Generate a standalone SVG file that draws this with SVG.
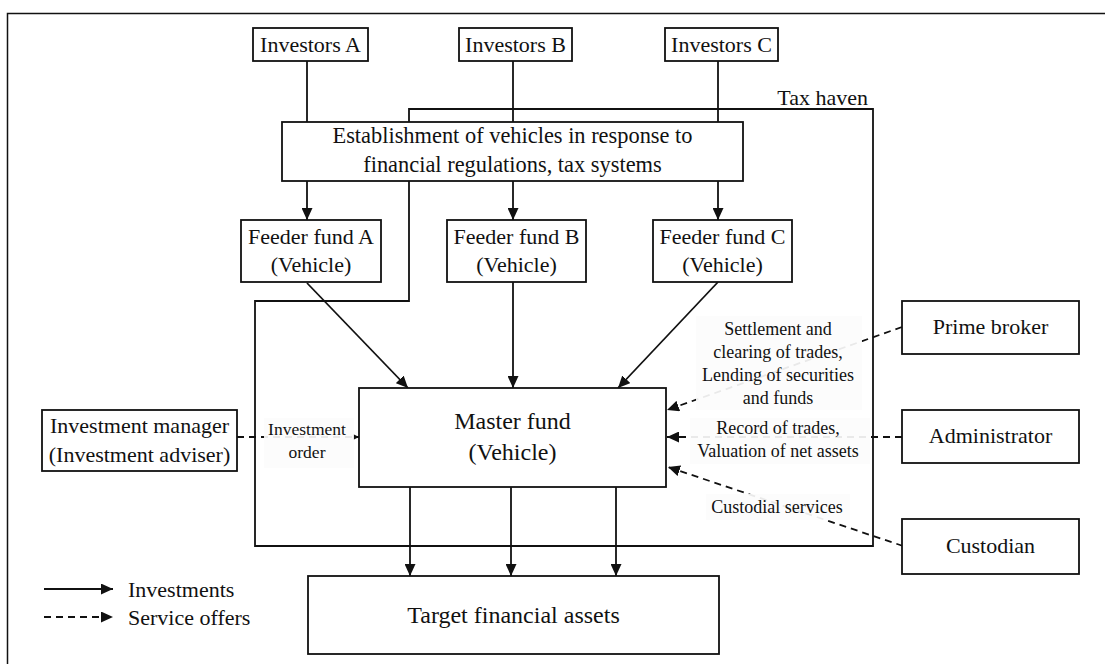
<svg xmlns="http://www.w3.org/2000/svg" width="1105" height="664" viewBox="0 0 1105 664">
<style>
.box{fill:#fff;stroke:#111;stroke-width:1.8}
.t{font-family:"Liberation Serif","Times New Roman",serif;font-size:22px;fill:#111;text-anchor:middle}
.b{font-size:24px}
.s{font-family:"Liberation Serif","Times New Roman",serif;font-size:18px;fill:#111;text-anchor:middle}
.ln{fill:none;stroke:#111;stroke-width:1.8}
.dash{fill:none;stroke:#111;stroke-width:1.8;stroke-dasharray:7 5}
.bg{fill:#fcfcfc;opacity:0.92}
</style>
<defs>
<marker id="ah" markerUnits="userSpaceOnUse" markerWidth="12" markerHeight="11" refX="12" refY="5.5" orient="auto"><path d="M0,0 L12,5.5 L0,11 z" fill="#111"/></marker>
<marker id="ahs" markerUnits="userSpaceOnUse" markerWidth="6" markerHeight="6" refX="6" refY="3" orient="auto"><path d="M0,0 L6,3 L0,6 z" fill="#111"/></marker>
</defs>
<rect x="0" y="0" width="1105" height="664" fill="#fff"/>
<rect x="7.5" y="13.5" width="1100" height="660" fill="none" stroke="#111" stroke-width="1.5"/>

<g id="taxhaven">
<path class="ln" d="M409,301 L409,109 L873,109 L873,546 L255,546 L255,301 Z"/>
<text class="t" x="868" y="105" style="text-anchor:end">Tax haven</text>
</g>

<g id="connectors">
<line class="ln" x1="307" y1="61" x2="307" y2="122"/>
<line class="ln" x1="513" y1="61" x2="513" y2="122"/>
<line class="ln" x1="718" y1="61" x2="718" y2="122"/>
<line class="ln" x1="307" y1="181" x2="307" y2="220" marker-end="url(#ah)"/>
<line class="ln" x1="513" y1="181" x2="513" y2="220" marker-end="url(#ah)"/>
<line class="ln" x1="718" y1="181" x2="718" y2="220" marker-end="url(#ah)"/>
<line class="ln" x1="307" y1="283" x2="408" y2="388" marker-end="url(#ah)"/>
<line class="ln" x1="513" y1="282" x2="513" y2="388" marker-end="url(#ah)"/>
<line class="ln" x1="718" y1="282" x2="618" y2="388" marker-end="url(#ah)"/>
<line class="ln" x1="410" y1="487" x2="410" y2="576" marker-end="url(#ah)"/>
<line class="ln" x1="511" y1="487" x2="511" y2="576" marker-end="url(#ah)"/>
<line class="ln" x1="616" y1="487" x2="616" y2="576" marker-end="url(#ah)"/>
<line class="dash" x1="237" y1="437" x2="359" y2="437" marker-end="url(#ahs)"/>
<line class="dash" x1="902" y1="327" x2="667" y2="410" marker-end="url(#ah)"/>
<line class="dash" x1="902" y1="437" x2="667" y2="437" marker-end="url(#ah)"/>
<line class="dash" x1="903" y1="546" x2="668" y2="467" marker-end="url(#ah)"/>
</g>

<g id="labels">
<rect class="bg" x="264" y="418" width="90" height="50"/>
<text class="s" x="307" y="435" style="font-size:17.5px">Investment</text>
<text class="s" x="307" y="458" style="font-size:17.5px">order</text>
<rect class="bg" x="696" y="316" width="166" height="94"/>
<text class="s" x="778" y="335">Settlement and</text>
<text class="s" x="778" y="358">clearing of trades,</text>
<text class="s" x="778" y="381">Lending of securities</text>
<text class="s" x="778" y="404">and funds</text>
<rect class="bg" x="690" y="418" width="180" height="46"/>
<text class="s" x="778" y="434">Record of trades,</text>
<text class="s" x="778" y="457">Valuation of net assets</text>
<rect class="bg" x="706" y="494" width="144" height="26"/>
<text class="s" x="777" y="513">Custodial services</text>
</g>

<g id="investorsA"><rect class="box" x="253" y="28" width="115" height="33"/><text class="t" x="310.5" y="52">Investors A</text></g>
<g id="investorsB"><rect class="box" x="459" y="28" width="113" height="33"/><text class="t" x="515.5" y="52">Investors B</text></g>
<g id="investorsC"><rect class="box" x="665" y="28" width="113" height="33"/><text class="t" x="721.5" y="52">Investors C</text></g>

<g id="establishment"><rect class="box" x="282" y="122" width="461" height="59"/>
<text class="t" x="512.5" y="143" style="font-size:22.4px">Establishment of vehicles in response to</text>
<text class="t" x="512.5" y="172" style="font-size:22.4px">financial regulations, tax systems</text></g>

<g id="feederA"><rect class="box" x="241" y="220" width="140" height="62"/><text class="t" x="311" y="244">Feeder fund A</text><text class="t" x="311" y="272">(Vehicle)</text></g>
<g id="feederB"><rect class="box" x="447" y="220" width="139" height="62"/><text class="t" x="516.5" y="244">Feeder fund B</text><text class="t" x="516.5" y="272">(Vehicle)</text></g>
<g id="feederC"><rect class="box" x="653" y="220" width="139" height="62"/><text class="t" x="722.5" y="244">Feeder fund C</text><text class="t" x="722.5" y="272">(Vehicle)</text></g>

<g id="master"><rect class="box" x="359" y="388" width="307" height="99"/><text class="t b" x="512.5" y="429">Master fund</text><text class="t b" x="512.5" y="460">(Vehicle)</text></g>

<g id="manager"><rect class="box" x="42" y="410" width="195" height="61"/><text class="t" x="139.5" y="433">Investment manager</text><text class="t" x="139.5" y="462">(Investment adviser)</text></g>

<g id="primebroker"><rect class="box" x="902" y="301" width="177" height="53"/><text class="t" x="990.5" y="334">Prime broker</text></g>
<g id="administrator"><rect class="box" x="902" y="410" width="177" height="53"/><text class="t" x="990.5" y="443">Administrator</text></g>
<g id="custodian"><rect class="box" x="902" y="519" width="177" height="55"/><text class="t" x="990.5" y="553">Custodian</text></g>

<g id="target"><rect class="box" x="308" y="576" width="411" height="78"/><text class="t b" x="513.5" y="623">Target financial assets</text></g>

<g id="legend">
<line class="ln" x1="44" y1="589" x2="113" y2="589" marker-end="url(#ah)"/>
<text class="t" x="128" y="597" style="text-anchor:start">Investments</text>
<line class="dash" x1="44" y1="617" x2="113" y2="617" marker-end="url(#ah)"/>
<text class="t" x="128" y="625" style="text-anchor:start">Service offers</text>
</g>
</svg>
